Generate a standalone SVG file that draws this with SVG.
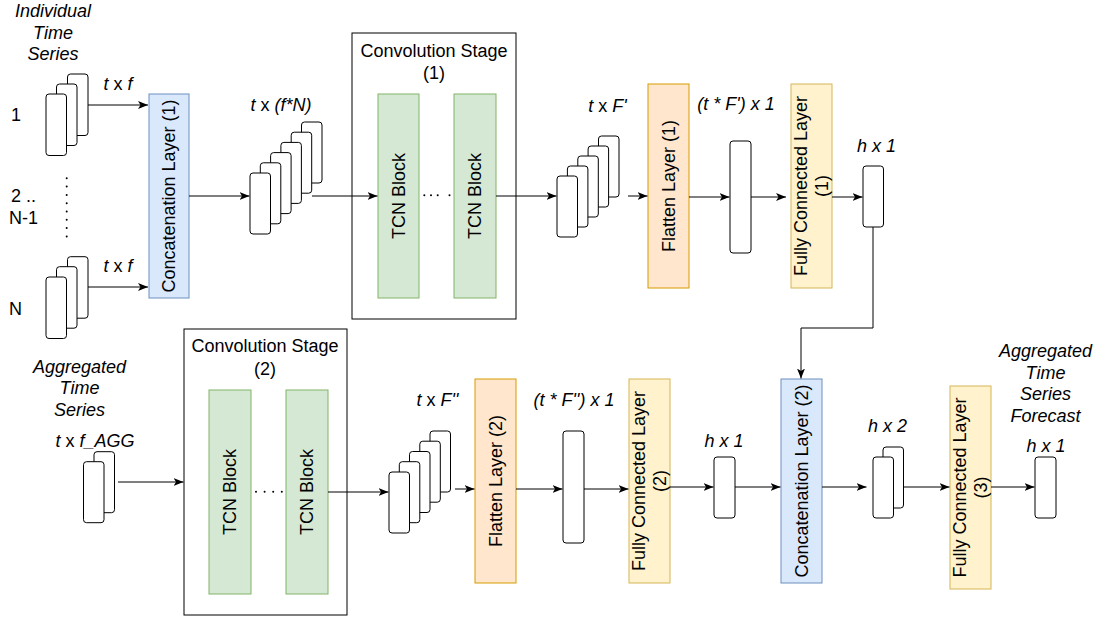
<svg xmlns="http://www.w3.org/2000/svg" width="1099" height="617" viewBox="0 0 1099 617">
<defs>
<style>
text{font-family:"Liberation Sans",Arial,sans-serif;font-size:18px;fill:#000}
.i{font-style:italic}
.c{text-anchor:middle}
.card{fill:#fff;stroke:#000;stroke-width:1}
.blue{fill:#dae8fc;stroke:#6c8ebf;stroke-width:1}
.green{fill:#d5e8d4;stroke:#82b366;stroke-width:1}
.orange{fill:#ffe6cc;stroke:#d79b00;stroke-width:1}
.yellow{fill:#fff2cc;stroke:#d6b656;stroke-width:1}
.stage{fill:#fff;stroke:#000;stroke-width:1}
.edge{fill:none;stroke:#000;stroke-width:1;marker-end:url(#arr)}
.dot{fill:#000}
</style>
<marker id="arr" viewBox="0 0 10 8" refX="10" refY="4" markerWidth="10" markerHeight="8" markerUnits="userSpaceOnUse" orient="auto">
<path d="M0,0 L10,4 L0,8 L2.5,4 Z" fill="#000"/>
</marker>
</defs>
<rect width="1099" height="617" fill="#fff"/>

<g id="label-individual">
<text class="i c" x="53" y="17">Individual</text>
<text class="i c" x="53" y="38.6">Time</text>
<text class="i c" x="53" y="60.2">Series</text>
</g>
<g id="label-indices">
<text class="c" x="16" y="121">1</text>
<text class="c" x="23.5" y="202">2 ..</text>
<text class="c" x="23.5" y="224">N-1</text>
<text class="c" x="15.5" y="315">N</text>
<g class="dot">
<circle cx="66.7" cy="178.3" r="1"/><circle cx="66.7" cy="186.6" r="1"/><circle cx="66.7" cy="194.9" r="1"/><circle cx="66.7" cy="203.2" r="1"/><circle cx="66.7" cy="211.5" r="1"/><circle cx="66.7" cy="219.8" r="1"/><circle cx="66.7" cy="228.1" r="1"/><circle cx="66.7" cy="236.4" r="1"/>
</g>
</g>

<g id="stack-1">
<rect class="card" x="67.5" y="74" width="20.5" height="61.5" rx="3"/>
<rect class="card" x="56.5" y="84" width="20.5" height="61.5" rx="3"/>
<rect class="card" x="46" y="94" width="20.5" height="61.5" rx="3"/>
</g>
<g id="stack-N">
<rect class="card" x="67.5" y="256.7" width="20.5" height="61.5" rx="3"/>
<rect class="card" x="56.5" y="266.7" width="20.5" height="61.5" rx="3"/>
<rect class="card" x="46" y="277" width="20.5" height="61.5" rx="3"/>
</g>
<g id="label-txf">
<text class="c" x="118" y="90"><tspan class="i">t</tspan> x <tspan class="i">f</tspan></text>
<text class="c" x="118" y="272"><tspan class="i">t</tspan> x <tspan class="i">f</tspan></text>
</g>

<g id="concat-1">
<rect class="blue" x="149" y="94" width="40" height="204"/>
<text class="c" transform="translate(169,196) rotate(-90)" x="0" y="6">Concatenation Layer (1)</text>
</g>

<g id="stack-fN">
<rect class="card" x="301.5" y="122" width="20.5" height="61" rx="3"/>
<rect class="card" x="291.2" y="132.2" width="20.5" height="61" rx="3"/>
<rect class="card" x="280.9" y="142.4" width="20.5" height="61" rx="3"/>
<rect class="card" x="270.6" y="152.6" width="20.5" height="61" rx="3"/>
<rect class="card" x="260.3" y="162.8" width="20.5" height="61" rx="3"/>
<rect class="card" x="250" y="173" width="20.5" height="61" rx="3"/>
<text class="c" x="281" y="110.5"><tspan class="i">t</tspan> x <tspan class="i">(f*N)</tspan></text>
</g>

<g id="conv-stage-1">
<rect class="stage" x="352" y="33" width="164" height="286"/>
<text class="c" x="434" y="57">Convolution Stage</text>
<text class="c" x="434" y="78.5">(1)</text>
</g>
<g id="tcn-1a">
<rect class="green" x="378" y="94" width="41" height="204"/>
<text class="c" transform="translate(398.5,196) rotate(-90)" x="0" y="6">TCN Block</text>
</g>
<g id="tcn-1-dots" class="dot">
<circle cx="424.3" cy="195.3" r="1"/><circle cx="431" cy="195.3" r="1"/><circle cx="437.7" cy="195.3" r="1"/><circle cx="449.5" cy="195.3" r="1"/>
</g>
<g id="tcn-1b">
<rect class="green" x="454" y="94" width="42" height="204"/>
<text class="c" transform="translate(475,196) rotate(-90)" x="0" y="6">TCN Block</text>
</g>

<g id="stack-F1">
<rect class="card" x="598.5" y="136" width="20.5" height="61" rx="3"/>
<rect class="card" x="588.1" y="146" width="20.5" height="61" rx="3"/>
<rect class="card" x="577.8" y="156" width="20.5" height="61" rx="3"/>
<rect class="card" x="567.4" y="166" width="20.5" height="61" rx="3"/>
<rect class="card" x="557" y="176" width="20.5" height="61" rx="3"/>
<text class="c" x="607.5" y="111.7"><tspan class="i">t</tspan> x <tspan class="i">F'</tspan></text>
</g>

<g id="flatten-1">
<rect class="orange" x="648" y="84" width="41" height="204"/>
<text class="c" transform="translate(668.5,186) rotate(-90)" x="0" y="6">Flatten Layer (1)</text>
</g>
<g id="vector-1">
<rect class="card" x="730" y="141" width="21" height="112" rx="3"/>
<text class="i c" x="736" y="110">(t * F') x 1</text>
</g>
<g id="fc-1">
<rect class="yellow" x="791" y="84" width="41" height="204"/>
<text class="c" transform="translate(811.5,186) rotate(-90)"><tspan x="0" y="-4.8">Fully Connected Layer</tspan><tspan x="0" y="16.8">(1)</tspan></text>
</g>
<g id="h-1">
<rect class="card" x="863" y="166" width="20.5" height="61" rx="3"/>
<text class="i c" x="876.5" y="151.7">h x 1</text>
</g>

<g id="label-aggregated">
<text class="i c" x="79.5" y="372.7">Aggregated</text>
<text class="i c" x="79.5" y="394.3">Time</text>
<text class="i c" x="79.5" y="415.9">Series</text>
</g>
<g id="stack-AGG">
<rect class="card" x="94" y="451.7" width="20.5" height="61" rx="3"/>
<rect class="card" x="83.5" y="461.7" width="20.5" height="61" rx="3"/>
<text class="c" x="95" y="446.7"><tspan class="i">t</tspan> x <tspan class="i">f_AGG</tspan></text>
</g>

<g id="conv-stage-2">
<rect class="stage" x="184" y="329" width="163" height="286"/>
<text class="c" x="265" y="351.7">Convolution Stage</text>
<text class="c" x="265" y="375">(2)</text>
</g>
<g id="tcn-2a">
<rect class="green" x="209" y="390" width="42" height="204"/>
<text class="c" transform="translate(230,492) rotate(-90)" x="0" y="6">TCN Block</text>
</g>
<g id="tcn-2-dots" class="dot">
<circle cx="256" cy="491.8" r="1"/><circle cx="264.6" cy="491.8" r="1"/><circle cx="273.2" cy="491.8" r="1"/><circle cx="281.8" cy="491.8" r="1"/>
</g>
<g id="tcn-2b">
<rect class="green" x="286" y="390" width="42" height="204"/>
<text class="c" transform="translate(307,492) rotate(-90)" x="0" y="6">TCN Block</text>
</g>

<g id="stack-F2">
<rect class="card" x="430" y="431" width="20.5" height="61" rx="3"/>
<rect class="card" x="419.8" y="441.2" width="20.5" height="61" rx="3"/>
<rect class="card" x="409.5" y="451.5" width="20.5" height="61" rx="3"/>
<rect class="card" x="399.3" y="461.7" width="20.5" height="61" rx="3"/>
<rect class="card" x="389" y="472" width="20.5" height="61" rx="3"/>
<text class="c" x="437.5" y="405.7"><tspan class="i">t</tspan> x <tspan class="i">F''</tspan></text>
</g>

<g id="flatten-2">
<rect class="orange" x="475" y="379" width="41" height="204"/>
<text class="c" transform="translate(495.5,481) rotate(-90)" x="0" y="6">Flatten Layer (2)</text>
</g>
<g id="vector-2">
<rect class="card" x="563" y="431" width="21" height="112" rx="3"/>
<text class="i c" x="574" y="405.7">(t * F'') x 1</text>
</g>
<g id="fc-2">
<rect class="yellow" x="629" y="379" width="41" height="204"/>
<text class="c" transform="translate(649.5,481) rotate(-90)"><tspan x="0" y="-4.8">Fully Connected Layer</tspan><tspan x="0" y="16.8">(2)</tspan></text>
</g>
<g id="h-2">
<rect class="card" x="714" y="457" width="21" height="61" rx="3"/>
<text class="i c" x="724" y="446.7">h x 1</text>
</g>

<g id="concat-2">
<rect class="blue" x="781" y="379" width="41" height="204"/>
<text class="c" transform="translate(801.5,481) rotate(-90)" x="0" y="6">Concatenation Layer (2)</text>
</g>
<g id="stack-h2">
<rect class="card" x="883" y="447" width="20.5" height="61" rx="3"/>
<rect class="card" x="873" y="457" width="20.5" height="61" rx="3"/>
<text class="i c" x="887.5" y="432.3">h x 2</text>
</g>
<g id="fc-3">
<rect class="yellow" x="950" y="386" width="41" height="203"/>
<text class="c" transform="translate(970.5,487.5) rotate(-90)"><tspan x="0" y="-4.8">Fully Connected Layer</tspan><tspan x="0" y="16.8">(3)</tspan></text>
</g>
<g id="label-forecast">
<text class="i c" x="1045.5" y="357">Aggregated</text>
<text class="i c" x="1045.5" y="378.6">Time</text>
<text class="i c" x="1045.5" y="400.2">Series</text>
<text class="i c" x="1045.5" y="421.8">Forecast</text>
</g>
<g id="h-out">
<rect class="card" x="1035" y="457" width="21" height="61" rx="3"/>
<text class="i c" x="1046" y="451.7">h x 1</text>
</g>

<g id="connectors">
<path class="edge" d="M88,105 H148"/>
<path class="edge" d="M88,287 H148"/>
<path class="edge" d="M189,196 H249.5"/>
<path class="edge" d="M312,196 H377.5"/>
<path class="edge" d="M496,196 H556.5"/>
<path class="edge" d="M628,196 H647.5"/>
<path class="edge" d="M689,197 H729.5"/>
<path class="edge" d="M751,197 H786"/>
<path class="edge" d="M832,197 H862.5"/>
<path class="edge" d="M873,227 V328 H801 V378.5"/>
<path class="edge" d="M118,482 H183.5"/>
<path class="edge" d="M328,492 H388.5"/>
<path class="edge" d="M455,489 H474.5"/>
<path class="edge" d="M516,489 H562.5"/>
<path class="edge" d="M584,489 H628.5"/>
<path class="edge" d="M670,487 H713.5"/>
<path class="edge" d="M735,487 H780.5"/>
<path class="edge" d="M822,487 H866.5"/>
<path class="edge" d="M903.5,487 H949.5"/>
<path class="edge" d="M991,487 H1034.5"/>
</g>
</svg>
